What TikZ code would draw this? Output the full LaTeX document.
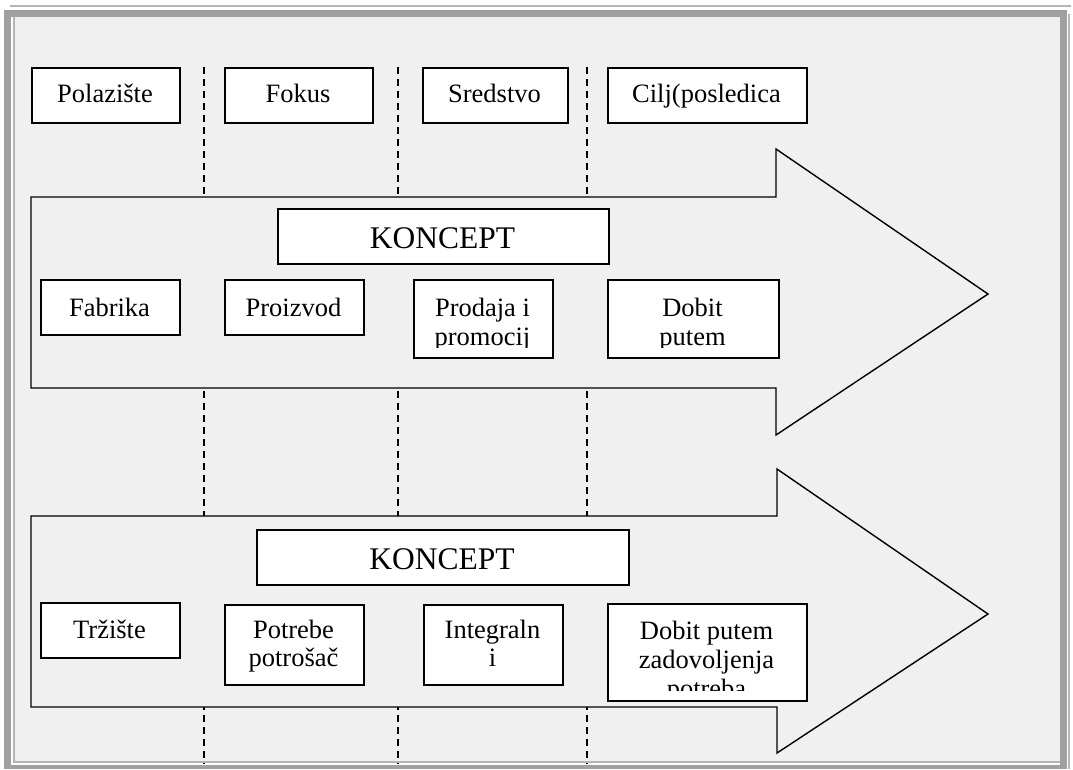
\documentclass[tikz,border=0pt]{standalone}
\usepackage{fontspec}
\setmainfont{Liberation Serif}
\definecolor{bg}{HTML}{F0F0F0}
\definecolor{frameg}{HTML}{A0A0A0}
\definecolor{thing}{HTML}{B4B4B4}
\newcommand\mybox[5]{\node[boxst, anchor=north west, minimum width={#4-#2}, minimum height={#5-#3}] (#1) at (#2,#3) {};}
\begin{document}
\begin{tikzpicture}[x=1pt,y=-1pt,
  boxst/.style={draw=black, line width=1.8pt, fill=white, inner sep=0pt},
  arrowst/.style={draw=black, line width=1.4pt, fill=bg, line join=miter},
  dashst/.style={draw=black, line width=1.5pt, dash pattern=on 7pt off 5pt},
  txt/.style={font=\fontsize{26.5}{29}\selectfont, anchor=base, inner sep=0pt},
  bigtxt/.style={font=\fontsize{31.5}{36}\selectfont, anchor=base, inner sep=0pt},
]
\useasboundingbox (0,0) rectangle (1073,769);
% frame
\fill[bg] (15,17) rectangle (1061,762);
\draw[thing, line width=1.5pt] (10,6) -- (1071,6);
\draw[thing, line width=1.5pt] (1069,14) -- (1069,769);
\draw[thing, line width=1.5pt] (14,17) -- (14,762) -- (1060,762);
\draw[frameg, line width=7pt] (7.5,769) -- (7.5,13.5) -- (1063.5,13.5) -- (1063.5,769);
\draw[frameg, line width=4pt] (4,767) -- (1067,767);
% dashed separators
\coordinate (d1t) at (204,67); \coordinate (d1b) at (204,764);
\coordinate (d2t) at (398,67); \coordinate (d2b) at (398,764);
\coordinate (d3t) at (587,67); \coordinate (d3b) at (587,764);
\draw[dashst] (d1t) -- (d1b);
\draw[dashst] (d2t) -- (d2b);
\draw[dashst] (d3t) -- (d3b);
% arrows
\draw[arrowst] (31,197) -- (776,197) -- (776,149) -- (988,294) -- (776,435) -- (776,388) -- (31,388) -- cycle;
\draw[arrowst] (31,516) -- (777,516) -- (777,469) -- (988,614) -- (777,753) -- (777,707) -- (31,707) -- cycle;
% top row
\mybox{polaziste}{31}{67}{179}{122}
\mybox{fokus}{224}{67}{372}{122}
\mybox{sredstvo}{422}{67}{567}{122}
\mybox{cilj}{607}{67}{806}{122}
\node[txt] (polaziste-t) at (105,102) {Polazište};
\node[txt] (fokus-t) at (298,102) {Fokus};
\node[txt] (sredstvo-t) at (494.5,102) {Sredstvo};
\node[txt] (cilj-t) at (706.5,102) {Cilj(posledica};
% arrow 1 contents
\mybox{koncept1}{277}{208}{608}{263}
\node[bigtxt] (koncept1-t) at (442.5,248) {KONCEPT};
\mybox{fabrika}{40}{279}{179}{334}
\mybox{proizvod}{224}{279}{363}{334}
\mybox{prodaja}{413}{279}{552}{357}
\mybox{dobit1}{607}{279}{778}{357}
\node[txt] (fabrika-t) at (109.5,316) {Fabrika};
\node[txt] (proizvod-t) at (293.5,316) {Proizvod};
\begin{scope}
\clip (413,279) rectangle (552,347);
\node[txt] (prodaja-t1) at (482.5,316) {Prodaja i};
\node[txt] (prodaja-t2) at (482.5,345) {promocij};
\end{scope}
\begin{scope}
\clip (607,279) rectangle (778,347);
\node[txt] (dobit1-t1) at (692.5,316) {Dobit};
\node[txt] (dobit1-t2) at (692.5,345) {putem};
\end{scope}
% arrow 2 contents
\mybox{koncept2}{256}{529}{628}{584}
\node[bigtxt] (koncept2-t) at (442,569) {KONCEPT};
\mybox{trziste}{40}{602}{179}{657}
\mybox{potrebe}{224}{604}{363}{684}
\mybox{integral}{423}{604}{562}{684}
\mybox{dobit2}{607}{603}{806}{700}
\node[txt] (trziste-t) at (109.5,638) {Tržište};
\node[txt] (potrebe-t1) at (293.5,638) {Potrebe};
\node[txt] (potrebe-t2) at (293.5,666) {potrošač};
\node[txt] (integral-t1) at (492.5,638) {Integraln};
\node[txt] (integral-t2) at (492.5,666) {i};
\begin{scope}
\clip (607,603) rectangle (806,690);
\node[txt] (dobit2-t1) at (706.5,639) {Dobit putem};
\node[txt] (dobit2-t2) at (706.5,668) {zadovoljenja};
\node[txt] (dobit2-t3) at (706.5,697) {potreba};
\end{scope}
\end{tikzpicture}
\end{document}
